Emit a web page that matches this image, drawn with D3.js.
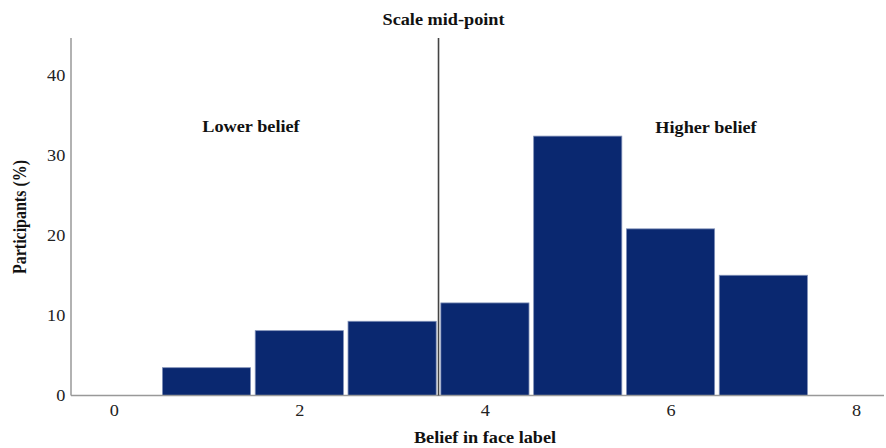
<!DOCTYPE html>
<html><head><meta charset="utf-8">
<script src="https://cdn.jsdelivr.net/npm/d3@7"></script>
<style>
body{margin:0;background:#fff;}
text{font-family:"Liberation Serif","Times New Roman",serif;}
</style></head>
<body><svg id="c" width="886" height="448"></svg>
<script>
const categories = [1, 2, 3, 4, 5, 6, 7];
const values = [3.47, 8.09, 9.26, 11.55, 32.36, 20.79, 15.0];
const xTicks = [0, 2, 4, 6, 8];
const yTicks = [0, 10, 20, 30, 40];
const midPoint = 3.5;

const SX = 1.14; // horizontal stretch of the text in the reference
const svg = d3.select("#c");
const x = d3.scaleLinear().domain([-0.46, 8.3]).range([71, 884]);
const y = d3.scaleLinear().domain([0, 44.6]).range([395.5, 38]);
const bw = x(0.95) - x(0);

svg.selectAll("rect.bar").data(categories).join("rect")
  .attr("class","bar")
  .attr("x", (d)=> x(d) - bw/2)
  .attr("y", (d,i)=> y(values[i]))
  .attr("width", bw)
  .attr("height", (d,i)=> y(0) - y(values[i]))
  .attr("fill", "#0a2870")
  .attr("stroke", "#8090b8")
  .attr("stroke-width", 0.8);

// axes
const xAxis = svg.append("g").attr("transform", `translate(0,${y(0)})`)
  .call(d3.axisBottom(x).tickValues(xTicks).tickSize(0).tickPadding(9).tickFormat(d3.format("d")));
xAxis.select(".domain").attr("stroke","#999").attr("stroke-width",1.5).attr("d", `M${x.range()[0]},0H${x.range()[1]}`);
xAxis.selectAll("text").attr("font-size",16).attr("fill","#222").attr("transform",`scale(${SX},1)`)
  .style("font-family",'"Liberation Serif",serif');

const yAxis = svg.append("g").attr("transform", `translate(${x.range()[0]},0)`)
  .call(d3.axisLeft(y).tickValues(yTicks).tickSize(0).tickPadding(5).tickFormat(d3.format("d")));
yAxis.select(".domain").attr("stroke","#999").attr("stroke-width",1.5).attr("d", `M0,${y.range()[1]}V${y.range()[0]}`);
yAxis.selectAll("text").attr("font-size",16).attr("fill","#222").attr("transform",`scale(${SX},1)`)
  .style("font-family",'"Liberation Serif",serif');

// midpoint line
svg.append("line").attr("x1", x(midPoint)).attr("x2", x(midPoint))
  .attr("y1", y.range()[1]).attr("y2", y(0))
  .attr("stroke","#444").attr("stroke-width",1.6);

const bold = (t, px, py, size) => svg.append("text")
  .attr("transform", `translate(${px},${py}) scale(${SX},1)`)
  .attr("text-anchor","middle").attr("font-weight","bold").attr("font-size",size).attr("fill","#111").text(t);

bold("Scale mid-point", x(midPoint)+5, 25, 16);
bold("Lower belief", 251, 132, 16);
bold("Higher belief", 706, 133, 16);
bold("Belief in face label", 485, 443, 16);
svg.append("text").attr("transform","translate(26,217) scale(1.12,1) rotate(-90)")
  .attr("text-anchor","middle").attr("font-weight","bold").attr("font-size",16).attr("fill","#111")
  .text("Participants (%)");
</script></body></html>
